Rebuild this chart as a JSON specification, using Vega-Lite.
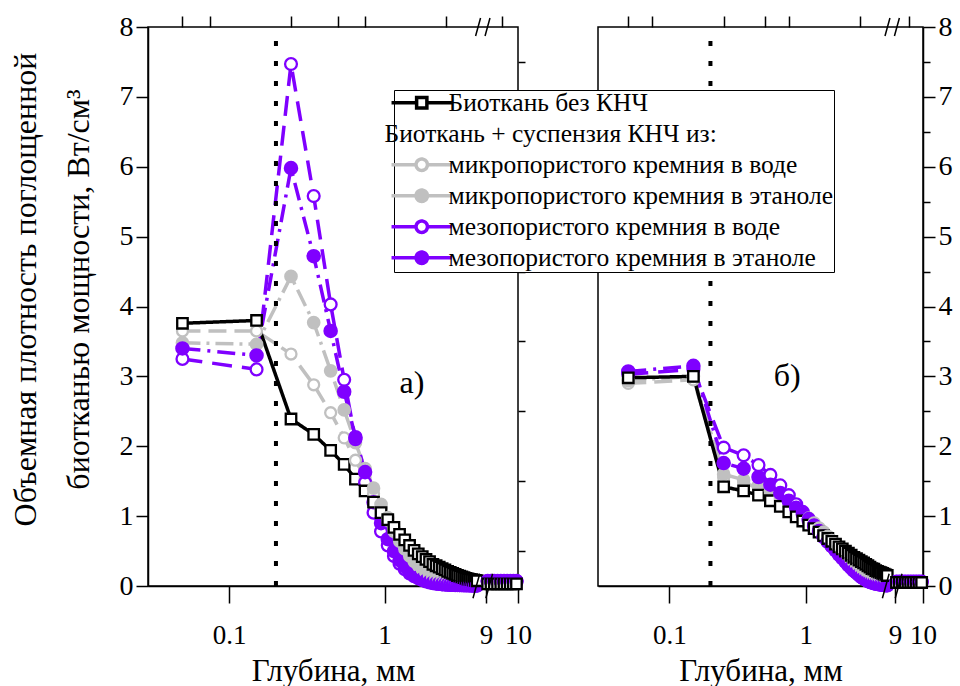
{
"$schema": "https://vega.github.io/schema/vega-lite/v6.json",
"background": "white",
"padding": {"left": 8, "top": 12, "right": 2, "bottom": 2},
"config": {
  "font": "Liberation Serif",
  "view": {"stroke": "black", "strokeWidth": 1.5},
  "axis": {"grid": false, "domainColor": "black", "domainWidth": 1.5, "tickColor": "black", "tickWidth": 1.5, "labelColor": "black", "titleColor": "black", "labelFont": "Liberation Serif", "titleFont": "Liberation Serif", "titleFontWeight": "normal", "labelFlush": false, "labelOverlap": false, "labelBound": false}
},
"datasets": {
  "names": [
    {"k": "s0", "series": "Биоткань без КНЧ"},
    {"k": "s1", "series": "микропористого кремния в воде"},
    {"k": "s2", "series": "микропористого кремния в этаноле"},
    {"k": "s3", "series": "мезопористого кремния в воде"},
    {"k": "s4", "series": "мезопористого кремния в этаноле"}
  ],
  "d": [
{"p":"a","x":0.05,"s0":3.76,"s1":3.65,"s2":3.48,"s3":3.25,"s4":3.40},
{"p":"a","x":0.15,"s0":3.80,"s1":3.65,"s2":3.46,"s3":3.10,"s4":3.30},
{"p":"a","x":0.25,"s0":2.39,"s1":3.32,"s2":4.43,"s3":7.47,"s4":5.98},
{"p":"a","x":0.35,"s0":2.17,"s1":2.88,"s2":3.77,"s3":5.58,"s4":4.72},
{"p":"a","x":0.45,"s0":1.94,"s1":2.48,"s2":3.08,"s3":4.03,"s4":3.65},
{"p":"a","x":0.55,"s0":1.74,"s1":2.12,"s2":2.52,"s3":2.95,"s4":2.78},
{"p":"a","x":0.65,"s0":1.53,"s1":1.80,"s2":2.05,"s3":2.10,"s4":2.13},
{"p":"a","x":0.75,"s0":1.36,"s1":1.55,"s2":1.68,"s3":1.48,"s4":1.63},
{"p":"a","x":0.85,"s0":1.20,"s1":1.32,"s2":1.40,"s3":1.05,"s4":1.20},
{"p":"a","x":0.95,"s0":1.05,"s1":1.12,"s2":1.17,"s3":0.78,"s4":0.90},
{"p":"a","x":1.05,"s0":0.95,"s1":0.94,"s2":0.98,"s3":0.58,"s4":0.67},
{"p":"a","x":1.15,"s0":0.84,"s1":0.78,"s2":0.82,"s3":0.43,"s4":0.50},
{"p":"a","x":1.25,"s0":0.74,"s1":0.64,"s2":0.68,"s3":0.32,"s4":0.37},
{"p":"a","x":1.35,"s0":0.66,"s1":0.53,"s2":0.56,"s3":0.24,"s4":0.28},
{"p":"a","x":1.45,"s0":0.58,"s1":0.43,"s2":0.46,"s3":0.18,"s4":0.21},
{"p":"a","x":1.55,"s0":0.51,"s1":0.35,"s2":0.38,"s3":0.14,"s4":0.16},
{"p":"a","x":1.65,"s0":0.46,"s1":0.29,"s2":0.31,"s3":0.11,"s4":0.12},
{"p":"a","x":1.75,"s0":0.42,"s1":0.24,"s2":0.25,"s3":0.085,"s4":0.095},
{"p":"a","x":1.85,"s0":0.38,"s1":0.19,"s2":0.20,"s3":0.065,"s4":0.075},
{"p":"a","x":1.95,"s0":0.35,"s1":0.16,"s2":0.165,"s3":0.05,"s4":0.06},
{"p":"a","x":2.05,"s0":0.31,"s1":0.13,"s2":0.135,"s3":0.04,"s4":0.048},
{"p":"a","x":2.15,"s0":0.29,"s1":0.105,"s2":0.11,"s3":0.033,"s4":0.04},
{"p":"a","x":2.25,"s0":0.27,"s1":0.085,"s2":0.09,"s3":0.028,"s4":0.033},
{"p":"a","x":2.35,"s0":0.25,"s1":0.07,"s2":0.075,"s3":0.024,"s4":0.028},
{"p":"a","x":2.45,"s0":0.23,"s1":0.058,"s2":0.062,"s3":0.021,"s4":0.024},
{"p":"a","x":2.55,"s0":0.21,"s1":0.048,"s2":0.052,"s3":0.019,"s4":0.021},
{"p":"a","x":2.65,"s0":0.195,"s1":0.04,"s2":0.044,"s3":0.017,"s4":0.019},
{"p":"a","x":2.75,"s0":0.18,"s1":0.034,"s2":0.037,"s3":0.016,"s4":0.017},
{"p":"a","x":2.85,"s0":0.165,"s1":0.029,"s2":0.032,"s3":0.015,"s4":0.016},
{"p":"a","x":2.95,"s0":0.15,"s1":0.025,"s2":0.028,"s3":0.014,"s4":0.015},
{"p":"a","x":3.05,"s0":0.14,"s1":0.022,"s2":0.025,"s3":0.013,"s4":0.014},
{"p":"a","x":3.15,"s0":0.13,"s1":0.02,"s2":0.022,"s3":0.012,"s4":0.013},
{"p":"a","x":3.25,"s0":0.12,"s1":0.018,"s2":0.02,"s3":0.011,"s4":0.012},
{"p":"a","x":3.35,"s0":0.11,"s1":0.016,"s2":0.018,"s3":0.01,"s4":0.011},
{"p":"a","x":3.45,"s0":0.10,"s1":0.015,"s2":0.016,"s3":0.01,"s4":0.01},
{"p":"a","x":3.55,"s0":0.095,"s1":0.014,"s2":0.015,"s3":0.009,"s4":0.01},
{"p":"a","x":3.65,"s0":0.09,"s1":0.013,"s2":0.014,"s3":0.009,"s4":0.009},
{"p":"a","x":3.75,"s0":0.085,"s1":0.012,"s2":0.013,"s3":0.008,"s4":0.009},
{"p":"a","x":3.85,"s0":0.08,"s1":0.011,"s2":0.012,"s3":0.008,"s4":0.008},
{"p":"a","x":3.95,"s0":0.075,"s1":0.01,"s2":0.011,"s3":0.008,"s4":0.008},
{"p":"a","x":9.05,"s0":0.03,"s1":0.05,"s2":0.05,"s3":0.07,"s4":0.07},
{"p":"a","x":9.15,"s0":0.03,"s1":0.05,"s2":0.05,"s3":0.07,"s4":0.07},
{"p":"a","x":9.25,"s0":0.03,"s1":0.05,"s2":0.05,"s3":0.07,"s4":0.07},
{"p":"a","x":9.35,"s0":0.03,"s1":0.05,"s2":0.05,"s3":0.07,"s4":0.07},
{"p":"a","x":9.45,"s0":0.03,"s1":0.05,"s2":0.05,"s3":0.07,"s4":0.07},
{"p":"a","x":9.55,"s0":0.03,"s1":0.05,"s2":0.05,"s3":0.07,"s4":0.07},
{"p":"a","x":9.65,"s0":0.03,"s1":0.05,"s2":0.05,"s3":0.07,"s4":0.07},
{"p":"a","x":9.75,"s0":0.03,"s1":0.05,"s2":0.05,"s3":0.07,"s4":0.07},
{"p":"a","x":9.85,"s0":0.03,"s1":0.05,"s2":0.05,"s3":0.07,"s4":0.07},
{"p":"a","x":9.95,"s0":0.03,"s1":0.05,"s2":0.05,"s3":0.07,"s4":0.07},
{"p":"b","x":0.05,"s0":2.98,"s1":2.90,"s2":2.94,"s3":3.03,"s4":3.07},
{"p":"b","x":0.15,"s0":3.00,"s1":2.95,"s2":3.00,"s3":3.10,"s4":3.15},
{"p":"b","x":0.25,"s0":1.42,"s1":1.55,"s2":1.60,"s3":1.98,"s4":1.76},
{"p":"b","x":0.35,"s0":1.36,"s1":1.48,"s2":1.52,"s3":1.87,"s4":1.68},
{"p":"b","x":0.45,"s0":1.30,"s1":1.40,"s2":1.44,"s3":1.73,"s4":1.56},
{"p":"b","x":0.55,"s0":1.22,"s1":1.32,"s2":1.36,"s3":1.59,"s4":1.45},
{"p":"b","x":0.65,"s0":1.14,"s1":1.24,"s2":1.28,"s3":1.44,"s4":1.33},
{"p":"b","x":0.75,"s0":1.06,"s1":1.16,"s2":1.20,"s3":1.30,"s4":1.22},
{"p":"b","x":0.85,"s0":0.99,"s1":1.09,"s2":1.12,"s3":1.17,"s4":1.12},
{"p":"b","x":0.95,"s0":0.93,"s1":1.02,"s2":1.04,"s3":1.06,"s4":1.03},
{"p":"b","x":1.05,"s0":0.87,"s1":0.95,"s2":0.97,"s3":0.96,"s4":0.94},
{"p":"b","x":1.15,"s0":0.82,"s1":0.88,"s2":0.90,"s3":0.87,"s4":0.86},
{"p":"b","x":1.25,"s0":0.77,"s1":0.82,"s2":0.83,"s3":0.79,"s4":0.78},
{"p":"b","x":1.35,"s0":0.72,"s1":0.76,"s2":0.77,"s3":0.71,"s4":0.70},
{"p":"b","x":1.45,"s0":0.68,"s1":0.70,"s2":0.71,"s3":0.64,"s4":0.63},
{"p":"b","x":1.55,"s0":0.64,"s1":0.65,"s2":0.65,"s3":0.57,"s4":0.57},
{"p":"b","x":1.65,"s0":0.60,"s1":0.60,"s2":0.60,"s3":0.51,"s4":0.51},
{"p":"b","x":1.75,"s0":0.56,"s1":0.55,"s2":0.55,"s3":0.45,"s4":0.45},
{"p":"b","x":1.85,"s0":0.53,"s1":0.50,"s2":0.50,"s3":0.40,"s4":0.40},
{"p":"b","x":1.95,"s0":0.50,"s1":0.46,"s2":0.46,"s3":0.35,"s4":0.35},
{"p":"b","x":2.05,"s0":0.47,"s1":0.42,"s2":0.42,"s3":0.30,"s4":0.30},
{"p":"b","x":2.15,"s0":0.44,"s1":0.38,"s2":0.38,"s3":0.26,"s4":0.26},
{"p":"b","x":2.25,"s0":0.41,"s1":0.35,"s2":0.34,"s3":0.22,"s4":0.22},
{"p":"b","x":2.35,"s0":0.39,"s1":0.32,"s2":0.31,"s3":0.19,"s4":0.19},
{"p":"b","x":2.45,"s0":0.37,"s1":0.29,"s2":0.28,"s3":0.16,"s4":0.16},
{"p":"b","x":2.55,"s0":0.35,"s1":0.26,"s2":0.25,"s3":0.13,"s4":0.13},
{"p":"b","x":2.65,"s0":0.33,"s1":0.23,"s2":0.22,"s3":0.11,"s4":0.11},
{"p":"b","x":2.75,"s0":0.31,"s1":0.21,"s2":0.20,"s3":0.09,"s4":0.09},
{"p":"b","x":2.85,"s0":0.29,"s1":0.19,"s2":0.18,"s3":0.07,"s4":0.07},
{"p":"b","x":2.95,"s0":0.27,"s1":0.17,"s2":0.16,"s3":0.06,"s4":0.06},
{"p":"b","x":3.05,"s0":0.25,"s1":0.15,"s2":0.14,"s3":0.05,"s4":0.05},
{"p":"b","x":3.15,"s0":0.24,"s1":0.13,"s2":0.12,"s3":0.04,"s4":0.04},
{"p":"b","x":3.25,"s0":0.22,"s1":0.12,"s2":0.11,"s3":0.035,"s4":0.035},
{"p":"b","x":3.35,"s0":0.21,"s1":0.10,"s2":0.10,"s3":0.03,"s4":0.03},
{"p":"b","x":3.45,"s0":0.20,"s1":0.09,"s2":0.09,"s3":0.025,"s4":0.025},
{"p":"b","x":3.55,"s0":0.19,"s1":0.08,"s2":0.08,"s3":0.02,"s4":0.02},
{"p":"b","x":3.65,"s0":0.18,"s1":0.07,"s2":0.07,"s3":0.02,"s4":0.02},
{"p":"b","x":3.75,"s0":0.17,"s1":0.06,"s2":0.06,"s3":0.015,"s4":0.015},
{"p":"b","x":3.85,"s0":0.16,"s1":0.055,"s2":0.055,"s3":0.01,"s4":0.01},
{"p":"b","x":3.95,"s0":0.15,"s1":0.05,"s2":0.05,"s3":0.01,"s4":0.01},
{"p":"b","x":9.05,"s0":0.05,"s1":0.06,"s2":0.06,"s3":0.06,"s4":0.06},
{"p":"b","x":9.15,"s0":0.05,"s1":0.06,"s2":0.06,"s3":0.06,"s4":0.06},
{"p":"b","x":9.25,"s0":0.05,"s1":0.06,"s2":0.06,"s3":0.06,"s4":0.06},
{"p":"b","x":9.35,"s0":0.05,"s1":0.06,"s2":0.06,"s3":0.06,"s4":0.06},
{"p":"b","x":9.45,"s0":0.05,"s1":0.06,"s2":0.06,"s3":0.06,"s4":0.06},
{"p":"b","x":9.55,"s0":0.05,"s1":0.06,"s2":0.06,"s3":0.06,"s4":0.06},
{"p":"b","x":9.65,"s0":0.05,"s1":0.06,"s2":0.06,"s3":0.06,"s4":0.06},
{"p":"b","x":9.75,"s0":0.05,"s1":0.06,"s2":0.06,"s3":0.06,"s4":0.06},
{"p":"b","x":9.85,"s0":0.05,"s1":0.06,"s2":0.06,"s3":0.06,"s4":0.06},
{"p":"b","x":9.95,"s0":0.05,"s1":0.06,"s2":0.06,"s3":0.06,"s4":0.06}
  ]
},
"spacing": 80,
"bounds": "flush",
"resolve": {"scale": {"x": "independent", "y": "independent"}},
"hconcat": [
{
  "width": 370, "height": 559,
  "resolve": {"axis": {"x": "independent", "y": "independent"}},
  "layer": [
    {
      "data": {"name": "d"},
      "transform": [
        {"filter": "datum.p == 'a'"},
        {"fold": ["s1","s2","s3","s4","s0"], "as": ["k","y"]},
        {"lookup": "k", "from": {"data": {"name": "names"}, "key": "k", "fields": ["series"]}}
      ],
      "mark": {"type": "line", "strokeWidth": 3.5},
      "encoding": {
        "x": {"field": "x", "type": "quantitative", "scale": {"type": "log", "domain": [0.03, 4, 9, 10], "range": [0, 330, 338, 370], "nice": false},
              "axis": {"values": [0.1, 1, 9, 10], "format": "~g", "tickSize": 17, "labelFontSize": 27, "labelPadding": 19, "title": "Глубина, мм", "titleFontSize": 31, "titlePadding": 8}},
        "y": {"field": "y", "type": "quantitative", "scale": {"domain": [0, 8], "nice": false},
              "axis": {"values": [0,1,2,3,4,5,6,7,8], "tickSize": 12, "labelFontSize": 28, "labelPadding": 3, "title": ["Объемная плотность поглощенной", "биотканью мощности, Вт/см³"], "titleFontSize": 32, "titleLineHeight": 53, "titlePadding": 24, "titleY": 262}},
        "color": {"field": "series", "type": "nominal",
          "scale": {"domain": ["Биоткань без КНЧ", "Биоткань +  суспензия КНЧ из:", "микропористого кремния в воде", "микропористого кремния в этаноле", "мезопористого кремния в воде", "мезопористого кремния в этаноле"],
                    "range": ["black", "transparent", "#c0c0c0", "#c0c0c0", "#7f00ff", "#7f00ff"]},
          "legend": {"orient": "none", "legendX": 246, "legendY": 63, "title": null, "direction": "vertical",
            "fillColor": "white", "strokeColor": "black", "padding": 0,
            "labelFont": "Liberation Serif", "labelFontSize": 25.5, "labelLimit": 700, "labelColor": "black",
            "symbolSize": 130, "symbolStrokeWidth": 3.5, "symbolOffset": 15, "labelOffset": 14, "rowPadding": 4,
            "encode": {
              "symbols": {"update": {
                "shape": {"signal": "datum.value == 'Биоткань без КНЧ' ? 'M-5.3,0H-0.9M0.9,0H5.3M-0.9,-0.9H0.9V0.9H-0.9Z' : (datum.value == 'Биоткань +  суспензия КНЧ из:' ? 'M0,0' : 'M-5.3,0H-1M1,0H5.3M-1,0A1,1 0 1,0 1,0A1,1 0 1,0 -1,0Z')"},
                "fill": {"signal": "datum.value == 'микропористого кремния в этаноле' ? '#c0c0c0' : (datum.value == 'мезопористого кремния в этаноле' ? '#7f00ff' : 'white')"},
                "strokeDash": {"value": [1, 0]},
                "opacity": {"value": 1}
              }},
              "labels": {"update": {"dx": {"signal": "datum.value == 'Биоткань +  суспензия КНЧ из:' ? -64 : 0"}}}
            }
          }},
        "strokeDash": {"field": "series", "type": "nominal", "legend": null,
          "scale": {"domain": ["Биоткань без КНЧ", "микропористого кремния в воде", "микропористого кремния в этаноле", "мезопористого кремния в воде", "мезопористого кремния в этаноле"],
                    "range": [[1, 0], [18, 8], [18, 6, 3, 6], [20, 10], [18, 7, 3, 7]]}}
      }
    },
    {
      "data": {"name": "d"},
      "transform": [
        {"filter": "datum.p == 'a'"},
        {"fold": ["s1","s2","s3","s4","s0"], "as": ["k","y"]},
        {"lookup": "k", "from": {"data": {"name": "names"}, "key": "k", "fields": ["series"]}}
      ],
      "mark": {"type": "point", "strokeWidth": 2.3, "opacity": 1},
      "encoding": {
        "x": {"field": "x", "type": "quantitative", "axis": {"values": [0.05, 0.075, 0.25, 0.5, 0.75, 2.5, 9.5], "tickSize": 11, "labels": false, "domain": false, "title": null}},
        "y": {"field": "y", "type": "quantitative", "axis": {"values": [0.5,1.5,2.5,3.5,4.5,5.5,6.5,7.5], "tickSize": 7, "labels": false, "domain": false, "title": null}},
        "stroke": {"field": "series", "type": "nominal", "legend": null,
          "scale": {"domain": ["Биоткань без КНЧ", "микропористого кремния в воде", "микропористого кремния в этаноле", "мезопористого кремния в воде", "мезопористого кремния в этаноле"],
                    "range": ["black", "#c0c0c0", "#c0c0c0", "#7f00ff", "#7f00ff"]}},
        "fill": {"field": "series", "type": "nominal", "legend": null,
          "scale": {"domain": ["Биоткань без КНЧ", "микропористого кремния в воде", "микропористого кремния в этаноле", "мезопористого кремния в воде", "мезопористого кремния в этаноле"],
                    "range": ["white", "white", "#c0c0c0", "white", "#7f00ff"]}},
        "shape": {"field": "series", "type": "nominal", "legend": null,
          "scale": {"domain": ["Биоткань без КНЧ", "микропористого кремния в воде", "микропористого кремния в этаноле", "мезопористого кремния в воде", "мезопористого кремния в этаноле"],
                    "range": ["square", "circle", "circle", "circle", "circle"]}},
        "size": {"field": "series", "type": "nominal", "legend": null,
          "scale": {"domain": ["Биоткань без КНЧ", "микропористого кремния в воде", "микропористого кремния в этаноле", "мезопористого кремния в воде", "мезопористого кремния в этаноле"],
                    "range": [110, 150, 170, 150, 170]}}
      }
    },
    {
      "data": {"values": [{"x": 0.2}]},
      "mark": {"type": "rule", "color": "black", "strokeWidth": 4, "strokeDash": [5, 15]},
      "encoding": {"x": {"field": "x", "type": "quantitative", "axis": null}, "y": {"datum": 0, "axis": null}, "y2": {"datum": 8}}
    },
    {
      "data": {"values": [{"x": 6.5, "y": 8, "s": 324}, {"x": 6.5, "y": 0, "s": 600}]},
      "mark": {"type": "point", "shape": "M-0.8,1L-0.25,-1M0.25,1L0.8,-1", "filled": false, "stroke": "black", "strokeWidth": 1.5, "opacity": 1},
      "encoding": {"x": {"field": "x", "type": "quantitative", "axis": null}, "y": {"field": "y", "type": "quantitative", "axis": null}, "size": {"field": "s", "type": "quantitative", "scale": null, "legend": null}}
    },
    {
      "data": {"values": [{"x": 1.5, "y": 2.9, "t": "а)"}]},
      "mark": {"type": "text", "fontSize": 32, "font": "Liberation Serif", "color": "black"},
      "encoding": {"x": {"field": "x", "type": "quantitative", "axis": null}, "y": {"field": "y", "type": "quantitative", "axis": null}, "text": {"field": "t"}}
    }
  ]
},
{
  "width": 325, "height": 559,
  "resolve": {"axis": {"x": "independent", "y": "independent"}},
  "layer": [
    {
      "data": {"name": "d"},
      "transform": [
        {"filter": "datum.p == 'b'"},
        {"fold": ["s1","s2","s3","s4","s0"], "as": ["k","y"]},
        {"lookup": "k", "from": {"data": {"name": "names"}, "key": "k", "fields": ["series"]}}
      ],
      "mark": {"type": "line", "strokeWidth": 3.5},
      "encoding": {
        "x": {"field": "x", "type": "quantitative", "scale": {"type": "log", "domain": [0.03, 4, 9, 10], "range": [0, 290, 297, 325], "nice": false},
              "axis": {"values": [0.1, 1, 9, 10], "format": "~g", "tickSize": 17, "labelFontSize": 27, "labelPadding": 19, "title": "Глубина, мм", "titleFontSize": 31, "titlePadding": 8}},
        "y": {"field": "y", "type": "quantitative", "scale": {"domain": [0, 8], "nice": false},
              "axis": {"orient": "right", "values": [0,1,2,3,4,5,6,7,8], "tickSize": 12, "labelFontSize": 28, "labelPadding": 3, "title": null}},
        "color": {"field": "series", "type": "nominal", "legend": null},
        "strokeDash": {"field": "series", "type": "nominal", "legend": null}
      }
    },
    {
      "data": {"name": "d"},
      "transform": [
        {"filter": "datum.p == 'b'"},
        {"fold": ["s1","s2","s3","s4","s0"], "as": ["k","y"]},
        {"lookup": "k", "from": {"data": {"name": "names"}, "key": "k", "fields": ["series"]}}
      ],
      "mark": {"type": "point", "strokeWidth": 2.3, "opacity": 1},
      "encoding": {
        "x": {"field": "x", "type": "quantitative", "axis": {"values": [0.05, 0.075, 0.25, 0.5, 0.75, 2.5, 9.5], "tickSize": 11, "labels": false, "domain": false, "title": null}},
        "y": {"field": "y", "type": "quantitative", "axis": {"orient": "right", "values": [0.5,1.5,2.5,3.5,4.5,5.5,6.5,7.5], "tickSize": 7, "labels": false, "domain": false, "title": null}},
        "stroke": {"field": "series", "type": "nominal", "legend": null},
        "fill": {"field": "series", "type": "nominal", "legend": null},
        "shape": {"field": "series", "type": "nominal", "legend": null},
        "size": {"field": "series", "type": "nominal", "legend": null}
      }
    },
    {
      "data": {"values": [{"x": 0.2}]},
      "mark": {"type": "rule", "color": "black", "strokeWidth": 4, "strokeDash": [5, 15]},
      "encoding": {"x": {"field": "x", "type": "quantitative", "axis": null}, "y": {"datum": 0, "axis": null}, "y2": {"datum": 8}}
    },
    {
      "data": {"values": [{"x": 6.5, "y": 8, "s": 324}, {"x": 6.5, "y": 0, "s": 600}]},
      "mark": {"type": "point", "shape": "M-0.8,1L-0.25,-1M0.25,1L0.8,-1", "filled": false, "stroke": "black", "strokeWidth": 1.5, "opacity": 1},
      "encoding": {"x": {"field": "x", "type": "quantitative", "axis": null}, "y": {"field": "y", "type": "quantitative", "axis": null}, "size": {"field": "s", "type": "quantitative", "scale": null, "legend": null}}
    },
    {
      "data": {"values": [{"x": 0.73, "y": 3.0, "t": "б)"}]},
      "mark": {"type": "text", "fontSize": 32, "font": "Liberation Serif", "color": "black"},
      "encoding": {"x": {"field": "x", "type": "quantitative", "axis": null}, "y": {"field": "y", "type": "quantitative", "axis": null}, "text": {"field": "t"}}
    }
  ]
}
]
}
